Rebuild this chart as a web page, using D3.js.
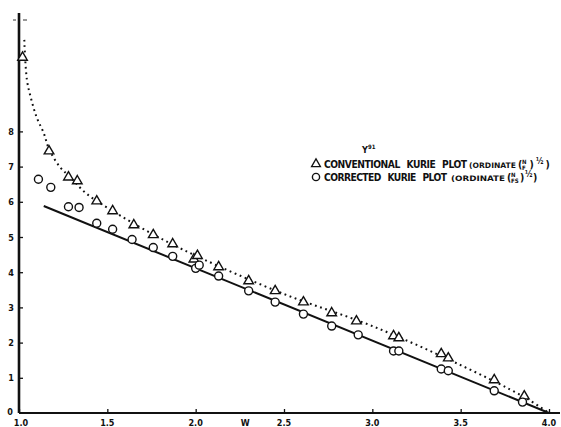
<!DOCTYPE html>
<html><head><meta charset="utf-8">
<script src="https://cdn.jsdelivr.net/npm/d3@7/dist/d3.min.js"></script>
<style>
body{margin:0;background:#fff;}
svg{display:block;}
text{font-family:"DejaVu Sans Condensed","Liberation Sans Narrow","Liberation Sans",sans-serif;font-weight:bold;fill:#111;}
</style></head>
<body>
<script>
// ---- data ----
const xTicks = [1.0, 1.5, 2.0, 2.5, 3.0, 3.5, 4.0];
const xTickLabels = ["1.0", "1.5", "2.0", "2.5", "3.0", "3.5", "4.0"];
const yTicks = [0, 1, 2, 3, 4, 5, 6, 7, 8];
const yTickLabels = ["0", "1", "2", "3", "4", "5", "6", "7", "8"];
// conventional Kurie plot (triangles)
const triW = [1.02, 1.17, 1.28, 1.33, 1.44, 1.53, 1.65, 1.76, 1.87, 1.99, 2.01, 2.13, 2.30, 2.45, 2.61, 2.77, 2.91, 3.12, 3.15, 3.39, 3.43, 3.69, 3.86];
const triY = [10.1, 7.44, 6.70, 6.59, 6.02, 5.74, 5.34, 5.06, 4.80, 4.37, 4.47, 4.15, 3.75, 3.47, 3.15, 2.84, 2.61, 2.19, 2.13, 1.68, 1.56, 0.94, 0.48];
// corrected Kurie plot (circles)
const cirW = [1.11, 1.18, 1.28, 1.34, 1.44, 1.53, 1.64, 1.76, 1.87, 2.00, 2.02, 2.13, 2.30, 2.45, 2.61, 2.77, 2.92, 3.12, 3.15, 3.39, 3.43, 3.69, 3.85];
const cirY = [6.64, 6.41, 5.86, 5.84, 5.39, 5.22, 4.93, 4.70, 4.45, 4.11, 4.20, 3.89, 3.47, 3.15, 2.81, 2.47, 2.22, 1.76, 1.76, 1.25, 1.20, 0.63, 0.31];
// straight fit to corrected plot
const fitW = [1.14, 4.0];
const fitY = [5.88, 0.0];
// dotted curve through conventional plot
const curveW = [1.03, 1.045, 1.07, 1.10, 1.14, 1.17, 1.23, 1.29, 1.38, 1.52, 1.75, 2.0, 2.5, 3.0, 3.5, 3.86, 4.0];
const curveY = [10.6, 9.46, 8.9, 8.4, 7.95, 7.5, 7.0, 6.7, 6.24, 5.77, 5.1, 4.47, 3.38, 2.47, 1.36, 0.45, 0.0];

const W = 561, H = 427;
const svg = d3.select("body").append("svg").attr("width", W).attr("height", H);

const x = d3.scaleLinear().domain([1, 4]).range([19, 549]);
const y = d3.scaleLinear().domain([0, 1]).range([413, 377.8]);

// axes lines
svg.append("line").attr("x1", x(1)).attr("x2", 560).attr("y1", y(0)).attr("y2", y(0))
  .attr("stroke", "#111").attr("stroke-width", 2.2);
svg.append("line").attr("x1", x(1)).attr("x2", x(1)).attr("y1", y(0)).attr("y2", 13)
  .attr("stroke", "#111").attr("stroke-width", 2.6);

// x axis ticks (inward)
const xa = d3.axisTop(x).tickValues(xTicks).tickSize(4).tickFormat("");
const gx = svg.append("g").attr("transform", `translate(0,${y(0)})`).call(xa);
gx.select(".domain").remove();
gx.selectAll("line").attr("stroke", "#111").attr("stroke-width", 1.3);
svg.selectAll(".xl").data(xTicks).enter().append("text")
  .attr("x", d => x(d) + (d === 1 ? 2 : 0)).attr("y", 425.5).attr("text-anchor", "middle")
  .attr("font-size", 9).text((d, i) => xTickLabels[i]);
svg.append("text").attr("x", x(2.28)).attr("y", 425.5).attr("text-anchor", "middle")
  .attr("font-size", 9).text("W");

// y axis ticks (inward)
const ya = d3.axisRight(y).tickValues(yTicks.slice(1)).tickSize(4).tickFormat("");
const gy = svg.append("g").attr("transform", `translate(${x(1)},0)`).call(ya);
gy.select(".domain").remove();
gy.selectAll("line").attr("stroke", "#111").attr("stroke-width", 1.3);
svg.selectAll(".yl").data(yTicks).enter().append("text")
  .attr("x", d => d === 0 ? 10 : 11).attr("y", d => d === 0 ? y(d) + 1.5 : y(d) + 3.5)
  .attr("text-anchor", "middle").attr("font-size", 9)
  .text((d, i) => yTickLabels[i]);
// small tick near top
svg.append("line").attr("x1", 13).attr("x2", 16).attr("y1", 20).attr("y2", 20).attr("stroke", "#333").attr("stroke-width", 1);
svg.append("line").attr("x1", 23).attr("x2", 27).attr("y1", 20).attr("y2", 20).attr("stroke", "#333").attr("stroke-width", 1);

// dotted curve
const curvePts = curveW.map((w, i) => [w, curveY[i]]);
svg.append("path").datum(curvePts)
  .attr("d", d3.line().x(d => x(d[0])).y(d => y(d[1])).curve(d3.curveCatmullRom.alpha(0.5)))
  .attr("fill", "none").attr("stroke", "#111").attr("stroke-width", 2)
  .attr("stroke-dasharray", "1.8,3.6").attr("stroke-linecap", "butt");

// straight fit
const fitPts = fitW.map((w, i) => [w, fitY[i]]);
svg.append("path").datum(fitPts)
  .attr("d", d3.line().x(d => x(d[0])).y(d => y(d[1])))
  .attr("fill", "none").attr("stroke", "#111").attr("stroke-width", 2);

// markers
const tri = d3.symbol().type(d3.symbolTriangle).size(40);
svg.selectAll(".tri").data(triW.map((w, i) => [w, triY[i]])).enter().append("path")
  .attr("d", tri).attr("transform", d => `translate(${x(d[0])},${y(d[1])})`)
  .attr("fill", "#fff").attr("stroke", "#111").attr("stroke-width", 1.4);
svg.selectAll(".cir").data(cirW.map((w, i) => [w, cirY[i]])).enter().append("circle")
  .attr("cx", d => x(d[0])).attr("cy", d => y(d[1])).attr("r", 4)
  .attr("fill", "#fff").attr("stroke", "#111").attr("stroke-width", 1.4);

// legend
const lg = svg.append("g");
const t0 = lg.append("text").attr("x", 362).attr("y", 153).attr("font-size", 9);
t0.append("tspan").text("Y");
t0.append("tspan").attr("dy", -4).attr("font-size", 6).text("91");

lg.append("path").attr("d", d3.symbol().type(d3.symbolTriangle).size(34))
  .attr("transform", "translate(316,164)").attr("fill", "#fff").attr("stroke", "#111").attr("stroke-width", 1.3);
lg.append("circle").attr("cx", 316).attr("cy", 177).attr("r", 3.6)
  .attr("fill", "#fff").attr("stroke", "#111").attr("stroke-width", 1.4);

function word(xx, yy, txt, size, len, adj) {
  const t = lg.append("text").attr("x", xx).attr("y", yy).attr("font-size", size).text(txt);
  if (len) t.attr("textLength", len).attr("lengthAdjust", adj || "spacingAndGlyphs");
  return t;
}
function legendLine(yy, label, labLen, ordX, ordLen, num, den, fx, fw, gap) {
  word(324, yy, label, 10.2, labLen, "spacing").attr("word-spacing", 4);
  word(ordX, yy, "(ORDINATE", 7.5, ordLen);
  word(fx, yy, "(", 10.5);
  word(fx + 4, yy - 4, num, 6);
  word(fx + 4, yy + 2, den, 6);
  word(fx + 4 + fw + gap, yy, ")", 10.5);
  word(fx + 8 + fw + 2 * gap, yy - 4, "½", 8);
  word(fx + 15 + fw + 3 * gap, yy, ")", 10.5);
}
legendLine(168, "CONVENTIONAL KURIE PLOT", 143, 469, 47, "N", "F", 518, 5, 2.5);
legendLine(181, "CORRECTED KURIE PLOT", 123, 451, 54, "N", "FS", 507, 8, 1);
</script>
</body></html>
